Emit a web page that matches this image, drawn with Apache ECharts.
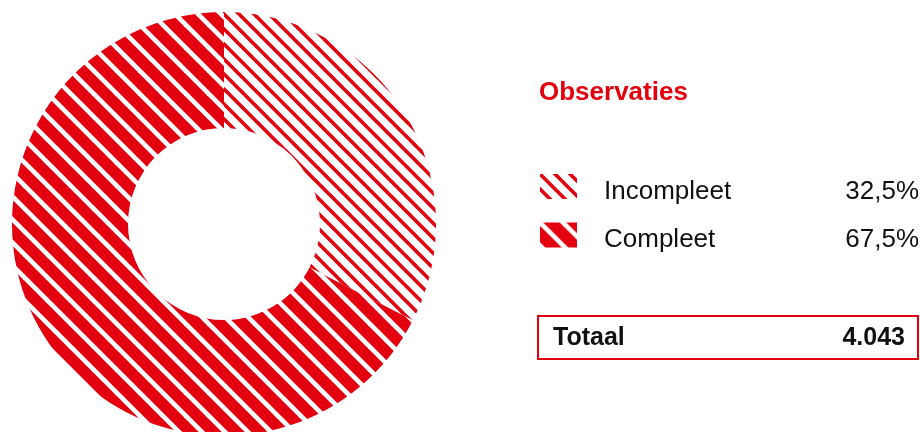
<!DOCTYPE html>
<html>
<head>
<meta charset="utf-8">
<script src="https://cdn.jsdelivr.net/npm/echarts@6/dist/echarts.min.js"></script>
<style>
html,body{margin:0;padding:0;background:#fff;}
#main{width:920px;height:432px;}
</style>
</head>
<body>
<div id="main"></div>
<script>
// ---- data ----
const categories = ['Incompleet', 'Compleet'];
const shares = [32.5, 67.5];
const chartTitle = 'Observaties';
const totalLabel = 'Totaal';
const totalValue = 4043;

// ---- style helpers ----
const RED = '#e3000f';
function stripeTile(size, bg, fg, width) {
  const c = document.createElement('canvas');
  c.width = size; c.height = size;
  const ctx = c.getContext('2d');
  ctx.fillStyle = bg;
  ctx.fillRect(0, 0, size, size);
  ctx.strokeStyle = fg;
  ctx.lineWidth = width;
  for (let k = -size; k <= size; k += size) {
    ctx.beginPath();
    ctx.moveTo(k - 2, -2);
    ctx.lineTo(k + size + 2, size + 2);
    ctx.stroke();
  }
  return c;
}
const patterns = [
  { image: stripeTile(15, '#ffffff', RED, 3.6), repeat: 'repeat' },
  { image: stripeTile(23, RED, '#ffffff', 4.6), repeat: 'repeat' }
];
const fmtPct = v => v.toFixed(1).replace('.', ',') + '%';
const fmtInt = v => String(v).replace(/\B(?=(\d{3})+(?!\d))/g, '.');

const pieData = categories.map((name, i) => ({
  name: name,
  value: shares[i],
  itemStyle: { color: patterns[i] }
}));

const FONT = 'Liberation Sans, Arial, sans-serif';
const chart = echarts.init(document.getElementById('main'), null, { renderer: 'canvas' });
chart.setOption({
  animation: false,
  backgroundColor: '#ffffff',
  title: {
    text: chartTitle,
    left: 539,
    top: 80,
    padding: 0,
    textStyle: { color: RED, fontFamily: FONT, fontWeight: 'bold', fontSize: 26 }
  },
  legend: {
    orient: 'vertical',
    left: 540,
    top: 174,
    padding: 0,
    itemWidth: 37,
    itemHeight: 25,
    itemGap: 18,
    icon: 'rect',
    selectedMode: false,
    data: categories,
    formatter: function (name) {
      const i = categories.indexOf(name);
      return '{n|' + name + '}{v|' + fmtPct(shares[i]) + '}';
    },
    textStyle: {
      fontFamily: FONT,
      fontSize: 26,
      color: '#111',
      padding: [10, 0, 0, 0],
      rich: {
        n: { fontSize: 26, color: '#111', width: 219, padding: [0, 0, 0, 22], fontFamily: FONT },
        v: { fontSize: 26, color: '#111', width: 96, align: 'right', fontFamily: FONT }
      }
    }
  },
  series: [{
    type: 'pie',
    center: [224, 224],
    radius: [96, 212],
    startAngle: 90,
    clockwise: true,
    silent: true,
    label: { show: false },
    labelLine: { show: false },
    itemStyle: { borderWidth: 0 },
    emphasis: { disabled: true },
    data: pieData
  }],
  graphic: [{
    type: 'group',
    left: 537,
    top: 315,
    children: [
      { type: 'rect', shape: { x: 1, y: 1, width: 380, height: 43 }, style: { fill: '#fff', stroke: RED, lineWidth: 2 } },
      { type: 'text', x: 16, y: 23, style: { text: totalLabel, font: 'bold 25px "Liberation Sans", Arial, sans-serif', fill: '#111', textVerticalAlign: 'middle' } },
      { type: 'text', x: 368, y: 23, style: { text: fmtInt(totalValue), font: 'bold 25px "Liberation Sans", Arial, sans-serif', fill: '#111', textAlign: 'right', textVerticalAlign: 'middle' } }
    ]
  }]
});
</script>
</body>
</html>
